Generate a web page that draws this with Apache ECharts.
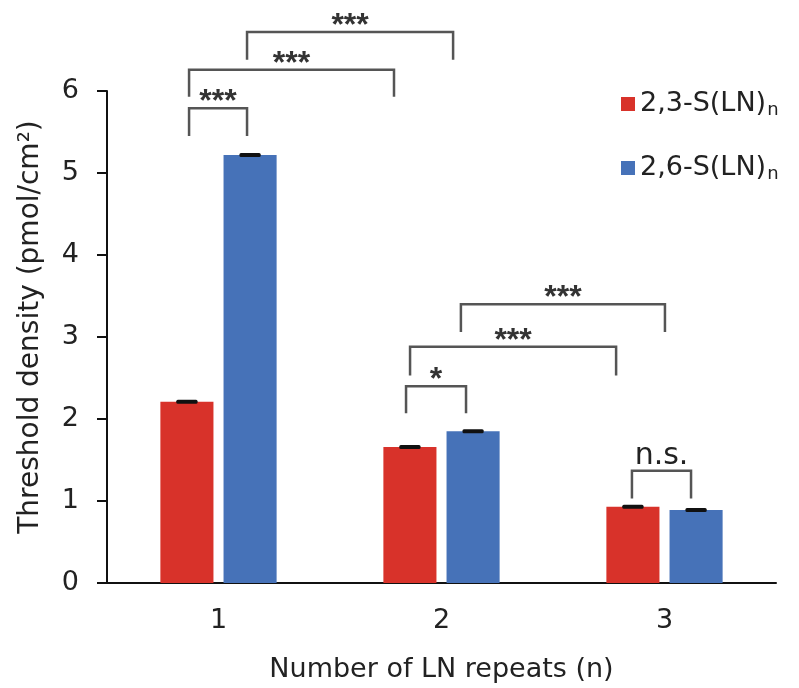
<!DOCTYPE html>
<html><head><meta charset="utf-8">
<script src="https://cdn.jsdelivr.net/npm/echarts@6/dist/echarts.min.js"></script>
<style>html,body{margin:0;padding:0;background:#fff}#c{width:799px;height:688px}</style>
</head><body><div id="c"></div>
<script>
// ---- data ----
const categories = ['1', '2', '3'];
const seriesNames = ['2,3-S(LN)', '2,6-S(LN)'];
const subscript = 'n';
const values23 = [2.21, 1.66, 0.93];
const values26 = [5.22, 1.85, 0.89];
const err23 = [0.015, 0.015, 0.012];
const err26 = [0.015, 0.012, 0.012];
const yMin = 0, yMax = 6, yStep = 1;
// significance brackets: [x start, x end, top level, left leg end, right leg end] (x in category units, 0 = first category)
const brackets = [
  [-0.132, 0.128, 5.79, 5.45, 5.45],
  [-0.132, 0.787, 6.26, 5.93, 5.93],
  [0.128, 1.052, 6.72, 6.38, 6.38],
  [0.841, 1.110, 2.40, 2.07, 2.07],
  [0.859, 1.783, 2.88, 2.53, 2.53],
  [1.087, 2.002, 3.40, 3.06, 3.06],
  [1.854, 2.119, 1.37, 1.03, 1.03]
];
const bracketLabels = ['***', '***', '***', '*', '***', '***', 'n.s.'];
const xTitle = 'Number of LN repeats (n)';
const yTitle = 'Threshold density (pmol/cm\u00B2)';

// ---- style ----
const RED = '#D8322A', BLUE = '#4672B8';
const BAR_FRAC = 0.238, GAP_FRAC = 0.19;
const FONT = '"DejaVu Sans", sans-serif';

function errRender(sign) {
  return function (params, api) {
    const ci = api.value(0), v = api.value(1), e = api.value(2);
    const band = api.size([1, 0])[0];
    const bw = band * BAR_FRAC, gap = bw * GAP_FRAC;
    const cx = api.coord([ci, v])[0] + sign * (bw + gap) / 2;
    const yHi = api.coord([ci, v + e])[1], yLo = api.coord([ci, v - e])[1];
    const hw = bw * 0.2;
    const h = Math.max(yLo - yHi, 4);
    return { type: 'rect', shape: { x: cx - hw, y: (yHi + yLo) / 2 - h / 2, width: 2 * hw, height: h, r: 1.5 }, style: { fill: '#111' } };
  };
}

function bracketRender(params, api) {
  const x1 = api.value(0), x2 = api.value(1), yt = api.value(2), l1 = api.value(3), l2 = api.value(4);
  const p1 = api.coord([x1, l1]), p2 = api.coord([x1, yt]), p3 = api.coord([x2, yt]), p4 = api.coord([x2, l2]);
  const label = bracketLabels[params.dataIndex];
  const isNS = label === 'n.s.';
  return {
    type: 'group', children: [
      { type: 'polyline', shape: { points: [p1, p2, p3, p4] }, style: { stroke: '#555', lineWidth: 2.5, fill: null } },
      { type: 'text', x: (p2[0] + p3[0]) / 2, y: p2[1] - (isNS ? 14 : 6),
        style: { text: label, align: 'center', verticalAlign: 'middle',
          font: isNS ? '30px "DejaVu Sans"' : 'bold 32px "Liberation Sans"', fill: isNS ? '#222' : '#333' } }
    ]
  };
}

const chart = echarts.init(document.getElementById('c'), null, { renderer: 'canvas' });
chart.setOption({
  animation: false,
  grid: { left: 107, right: 23, top: 91, bottom: 103, containLabel: false },
  legend: {
    orient: 'vertical', left: 616, top: 84, itemWidth: 14, itemHeight: 14, itemGap: 34, icon: 'rect',
    data: seriesNames,
    formatter: function (name) { return '{a|' + name + '}{n|' + subscript + '}'; },
    textStyle: {
      rich: {
        a: { fontFamily: FONT, fontSize: 27, color: '#222', lineHeight: 30 },
        n: { fontFamily: FONT, fontSize: 18, color: '#222', lineHeight: 30, padding: [12, 0, 0, 1] }
      }
    }
  },
  xAxis: [
    {
      type: 'category', data: categories,
      axisLine: { onZero: false, lineStyle: { color: '#111', width: 2 } },
      axisTick: { show: false },
      axisLabel: { fontFamily: FONT, fontSize: 27, color: '#222', margin: 24 },
      name: xTitle, nameLocation: 'middle', nameGap: 73,
      nameTextStyle: { fontFamily: FONT, fontSize: 27, color: '#222' }
    },
    { type: 'value', min: -0.5, max: 2.5, show: false }
  ],
  yAxis: {
    type: 'value', min: yMin, max: yMax, interval: yStep,
    axisLine: { show: true, onZero: false, lineStyle: { color: '#111', width: 2 } },
    axisTick: { show: true, length: 10, lineStyle: { color: '#111', width: 2 } },
    splitLine: { show: false },
    axisLabel: { fontFamily: FONT, fontSize: 27, color: '#222', margin: 28 },
    name: yTitle, nameLocation: 'middle', nameGap: 62, nameRotate: 90,
    nameTextStyle: { fontFamily: FONT, fontSize: 28, color: '#222', padding: [0, 0, 0, 20] }
  },
  series: [
    { name: seriesNames[0], type: 'bar', data: values23, barWidth: (BAR_FRAC * 100) + '%', barGap: (GAP_FRAC * 100) + '%', itemStyle: { color: RED } },
    { name: seriesNames[1], type: 'bar', data: values26, barWidth: (BAR_FRAC * 100) + '%', barGap: (GAP_FRAC * 100) + '%', itemStyle: { color: BLUE } },
    { type: 'custom', renderItem: errRender(-1), data: values23.map((v, i) => [i, v, err23[i]]), encode: { x: 0, y: 1 }, z: 5 },
    { type: 'custom', renderItem: errRender(1), data: values26.map((v, i) => [i, v, err26[i]]), encode: { x: 0, y: 1 }, z: 5 },
    { type: 'custom', xAxisIndex: 1, renderItem: bracketRender, data: brackets, encode: { x: [0, 1], y: [2, 3, 4] }, clip: false, z: 6 }
  ]
});
</script>
</body></html>
